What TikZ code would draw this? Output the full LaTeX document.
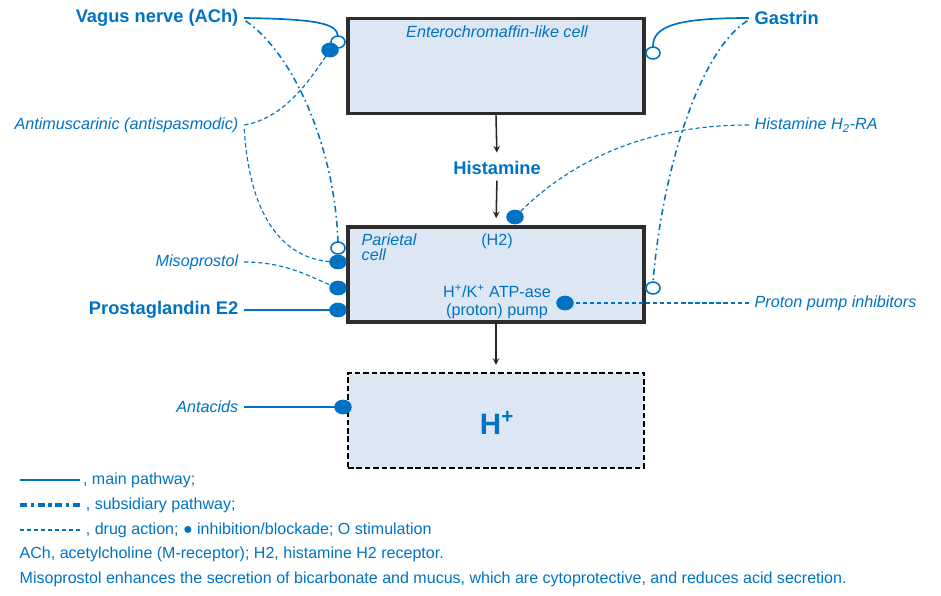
\documentclass[tikz,border=0pt]{standalone}
\usepackage{fontspec}
\setmainfont{Liberation Sans}
\usetikzlibrary{shapes.geometric, positioning}

\begin{document}
\begin{tikzpicture}[x=0.025cm, y=-0.025cm,
    cellbox/.style={draw=boxline, line width=2.4pt, fill=boxfill, minimum width=7.4cm, minimum height=2.38cm},
    boldlbl/.style={text=medblue, font=\fontsize{13}{15}\selectfont\bfseries, inner sep=1pt},
    druglbl/.style={text=medblue, font=\fontsize{11.5}{13}\selectfont\itshape, inner sep=1pt},
    celltxt/.style={text=medblue, font=\fontsize{11.5}{12.5}\selectfont, inner sep=1pt},
    legtxt/.style={text=medblue, font=\fontsize{11.4}{13}\selectfont, inner sep=1pt},
    mainpath/.style={draw=medblue, line width=1.2pt},
    subpath/.style={draw=medblue, line width=1.1pt, dash pattern=on 4.5pt off 2.5pt on 1.2pt off 2.5pt},
    drugpath/.style={draw=medblue, line width=0.8pt, dash pattern=on 3pt off 2pt},
    blockdot/.style={ellipse, fill=medblue, inner sep=0pt, minimum width=12.5pt, minimum height=10.5pt},
    stimdot/.style={ellipse, draw=medblue, fill=white, line width=1.1pt, inner sep=0pt, minimum width=10pt, minimum height=8.5pt},
    flow/.style={-stealth, line width=1.1pt, black!85}]
    % Colours
    \definecolor{medblue}{RGB}{0, 114, 196}
    \definecolor{boxfill}{RGB}{221, 231, 244}
    \definecolor{boxline}{RGB}{45, 45, 45}

    \useasboundingbox (0,0) rectangle (941,595);

    % Cells
    \node[cellbox] (ecl) at (496,66) {};
    \node[cellbox] (parietal) at (496,274.5) {};
    \node[cellbox, draw=black, line width=1.3pt, dash pattern=on 4pt off 2pt] (hplus) at (496,420.5) {};

    % Texts in the cells
    \node[celltxt, font=\fontsize{11.5}{12.5}\selectfont\itshape] (ecltxt) at (497,32) {Enterochromaffin-like cell};
    \node[celltxt, font=\fontsize{11.5}{10.5}\selectfont\itshape, align=left, anchor=north west] (partxt) at (360,232) {Parietal\\cell};
    \node[celltxt] (hIIrec) at (497,241) {(H2)};
    \node[celltxt, align=center] (pump) at (497,302) {H\textsuperscript{+}/K\textsuperscript{+} ATP-ase\\(proton) pump};
    \node[text=medblue, font=\fontsize{21}{24}\selectfont\bfseries] (hion) at (497,423) {H\textsuperscript{+}};
    \node[boldlbl] (histamine) at (497,168) {Histamine};

    % Main flow
    \draw[flow, shorten >=5pt] (ecl.south) -- (histamine.north);
    \draw[flow, shorten <=3pt, shorten >=5pt] (histamine.south) -- (parietal.north);
    \draw[flow, shorten >=5pt] (parietal.south) -- (hplus.north);

    % Labels on the left
    \node[boldlbl, anchor=east] (vagus) at (240,18) {Vagus nerve (ACh)};
    \node[druglbl, anchor=east] (antimusc) at (240,125) {Antimuscarinic (antispasmodic)};
    \node[druglbl, anchor=east] (miso) at (240,262) {Misoprostol};
    \node[boldlbl, anchor=east] (pgeII) at (240,310) {Prostaglandin E2};
    \node[druglbl, anchor=east] (antacids) at (240,407) {Antacids};

    % Labels on the right
    \node[boldlbl, anchor=west] (gastrin) at (753,18) {Gastrin};
    \node[druglbl, anchor=west] (hIIra) at (753,125) {Histamine H\textsubscript{2}-RA};
    \node[druglbl, anchor=west] (ppi) at (753,303) {Proton pump inhibitors};

    % Receptor points
    \coordinate (eclVagC) at (338,42);
    \coordinate (eclAntiC) at (330,50);
    \coordinate (eclGasC) at (653,53);
    \coordinate (parVagC) at (338,248);
    \coordinate (parAntiC) at (338,262);
    \coordinate (parMisoC) at (338,288);
    \coordinate (parPgeC) at (338,310);
    \coordinate (parGasC) at (653,288);
    \coordinate (hIIBlockC) at (515,217);
    \coordinate (ppiBlockC) at (565,303);
    \coordinate (acidBlockC) at (343,407);

    % Main pathways
    \draw[mainpath] ([xshift=3pt]vagus.east) .. controls (320,19) and (337,24) .. ([yshift=4pt]eclVagC);
    \draw[mainpath] ([xshift=-3pt]gastrin.west) .. controls (680,18) and (652,25) .. ([yshift=4pt]eclGasC);
    \draw[mainpath, line width=2pt] ([xshift=3pt]pgeII.east) -- (parPgeC);
    \draw[mainpath, line width=1.6pt] ([xshift=3pt]antacids.east) -- (acidBlockC);

    % Subsidiary pathways
    \draw[subpath] ([shift={(4pt,-2pt)}]vagus.east) .. controls (295,55) and (335,150) .. ([yshift=4pt]parVagC);
    \draw[subpath] ([shift={(-4pt,-2pt)}]gastrin.west) .. controls (700,50) and (662,170) .. ([yshift=4pt]parGasC);

    % Drug actions
    \draw[drugpath] ([xshift=3pt]antimusc.east) .. controls (285,118) and (310,80) .. (eclAntiC);
    \draw[drugpath] ([shift={(3pt,-3pt)}]antimusc.east) .. controls (250,220) and (285,262) .. (parAntiC);
    \draw[drugpath] ([xshift=3pt]miso.east) .. controls (290,262) and (315,280) .. (parMisoC);
    \draw[drugpath] ([xshift=-3pt]hIIra.west) .. controls (640,125) and (565,165) .. (hIIBlockC);
    \draw[drugpath] ([xshift=-3pt]ppi.west) -- (ppiBlockC);

    % Dots
    \node[stimdot] (eclVag) at (eclVagC) {};
    \node[blockdot] (eclAnti) at (eclAntiC) {};
    \node[stimdot] (eclGas) at (eclGasC) {};
    \node[stimdot] (parVag) at (parVagC) {};
    \node[blockdot] (parAnti) at (parAntiC) {};
    \node[blockdot] (parMiso) at (parMisoC) {};
    \node[blockdot] (parPge) at (parPgeC) {};
    \node[stimdot] (parGas) at (parGasC) {};
    \node[blockdot] (hIIBlock) at (hIIBlockC) {};
    \node[blockdot] (ppiBlock) at (ppiBlockC) {};
    \node[blockdot] (acidBlock) at (acidBlockC) {};

    % Legend
    \coordinate (legA1) at (20,480);
    \coordinate (legA2) at (80,480);
    \coordinate (legB1) at (20,505);
    \coordinate (legB2) at (80,505);
    \coordinate (legC1) at (20,530);
    \coordinate (legC2) at (80,530);
    \draw[mainpath] (legA1) -- (legA2);
    \draw[draw=medblue, line width=2.4pt, dash pattern=on 5pt off 2.5pt on 2.5pt off 2.5pt] (legB1) -- (legB2);
    \draw[drugpath, line width=1.3pt] (legC1) -- (legC2);
    \node[legtxt, right=1pt of legA2] (legA) {, main pathway;};
    \node[legtxt, right=3pt of legB2] (legB) {, subsidiary pathway;};
    \node[legtxt, right=3pt of legC2] (legC) {, drug action; ● inhibition/blockade; O stimulation};
    \node[legtxt, anchor=west] (legD) at (18,554) {ACh, acetylcholine (M-receptor); H2, histamine H2 receptor.};
    \node[legtxt, anchor=west] (legE) at (18,579) {Misoprostol enhances the secretion of bicarbonate and mucus, which are cytoprotective, and reduces acid secretion.};
\end{tikzpicture}
\end{document}
